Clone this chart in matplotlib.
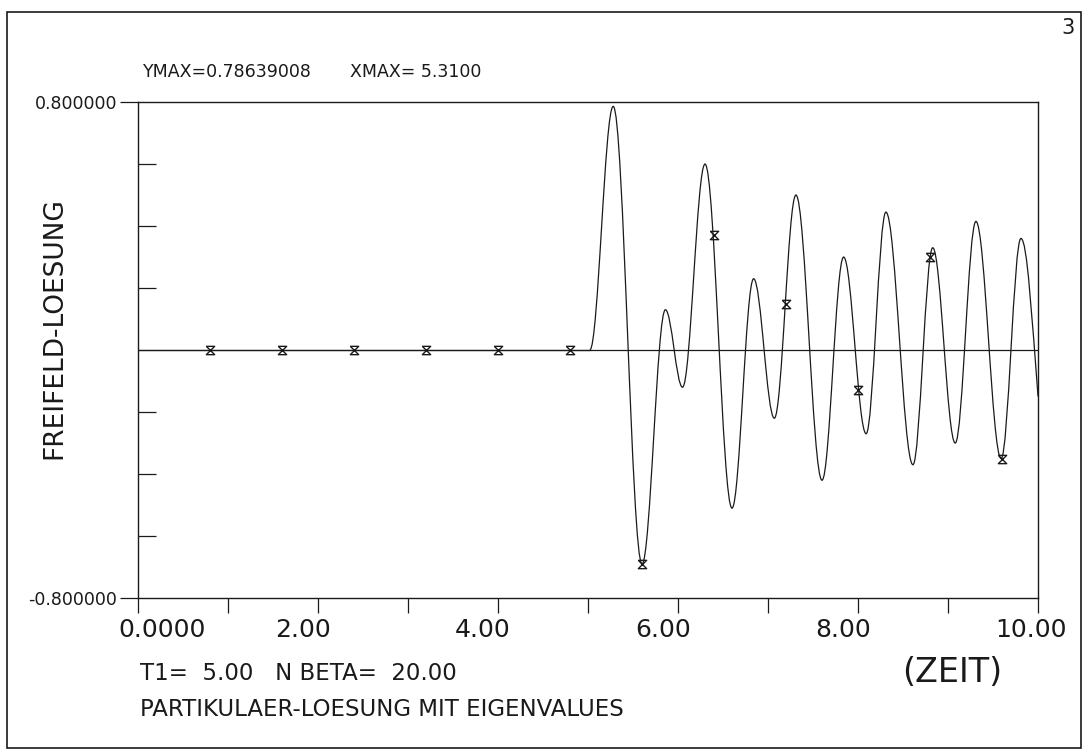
import matplotlib
matplotlib.use("Agg")
import matplotlib.pyplot as plt
from matplotlib.path import Path
from matplotlib.patches import PathPatch, Rectangle

# curve values (flat part, then the extrema of the oscillation)
flat_x = [0.0, 5.02]
flat_y = [0.0, 0.0]
node_x = [5.02, 5.28, 5.60, 5.86, 6.05, 6.30, 6.60, 6.84, 7.07, 7.31, 7.60,
          7.84, 8.09, 8.31, 8.61, 8.83, 9.08, 9.31, 9.59, 9.81, 10.0]
node_y = [0.0, 0.786, -0.69, 0.13, -0.12, 0.60, -0.51, 0.23, -0.22, 0.50, -0.42,
          0.30, -0.27, 0.445, -0.37, 0.33, -0.30, 0.415, -0.35, 0.36, -0.15]

# sampled points (marked with small symbols)
mark_x = [0.8, 1.6, 2.4, 3.2, 4.0, 4.8, 5.6, 6.4, 7.2, 8.0, 8.8, 9.6]
mark_y = [0.0, 0.0, 0.0, 0.0, 0.0, 0.0, -0.69, 0.37, 0.15, -0.13, 0.30, -0.35]

yticks_major = [-0.8, 0.8]
ytick_labels = ["-0.800000", "0.800000"]
yticks_minor = [-0.6, -0.4, -0.2, 0.2, 0.4, 0.6]
xticks = list(range(11))
xlabel_pos = [0, 2, 4, 6, 8, 10]
xlabel_txt = ["0.0000", "2.00", "4.00", "6.00", "8.00", "10.00"]

ink = "#1a1a1a"
plt.rcParams['font.family'] = ['DejaVu Sans']

fig = plt.figure(figsize=(10.84, 7.53), dpi=100)
ax = fig.add_axes([0.1273, 0.2058, 0.8303, 0.6587])
ax.set_xlim(0, 10)
ax.set_ylim(-0.8, 0.8)

for s in ax.spines.values():
    s.set_linewidth(1.0)
    s.set_color(ink)

# zero line across the whole axis
ax.axhline(0, color=ink, lw=0.9)
ax.plot(flat_x, flat_y, color=ink, lw=0.9)

# smooth curve through the extrema
k = 0.363
verts = [(node_x[0], node_y[0])]
codes = [Path.MOVETO]
n = len(node_x)
for i in range(n - 1):
    xa, ya, xb, yb = node_x[i], node_y[i], node_x[i + 1], node_y[i + 1]
    dx = xb - xa
    c1 = (xa + k * dx, ya)
    if i == n - 2:
        c2 = (xb - k * dx, yb + 0.5 * (ya - yb))   # last point is not an extremum
    else:
        c2 = (xb - k * dx, yb)
    verts += [c1, c2, (xb, yb)]
    codes += [Path.CURVE4] * 3
ax.add_patch(PathPatch(Path(verts, codes), fill=False, edgecolor=ink, lw=0.9))

# hourglass-like marker
hg = Path([(-1, 1), (1, 1), (-1, -1), (1, -1), (-1, 1)])
ax.plot(mark_x, mark_y, ls="none", marker=hg, ms=6, mew=1.0,
        mec=ink, mfc="none")

# ticks
ax.set_yticks(yticks_major)
ax.set_yticklabels(ytick_labels, fontsize=12.5, color=ink)
ax.set_yticks(yticks_minor, minor=True)
ax.tick_params(axis="y", which="major", direction="out", length=13, width=0.9,
               pad=2, colors=ink)
ax.tick_params(axis="y", which="minor", direction="in", length=13, width=0.9,
               colors=ink)
ax.set_xticks(xticks)
ax.set_xticklabels([])
ax.tick_params(axis="x", which="major", direction="out", length=11, width=0.9,
               colors=ink)

for xp, t in zip(xlabel_pos, xlabel_txt):
    off = -14 if xp == 0 else -31
    ax.annotate(t, xy=(xp, -0.8), xycoords="data", xytext=(off, -23),
                textcoords="offset points", ha="left", va="center",
                fontsize=18, color=ink)

# texts
fig.text(143 / 1084, 1 - 72 / 753, "YMAX=0.78639008", fontsize=12.5,
         ha="left", va="center", color=ink)
fig.text(350 / 1084, 1 - 72 / 753, "XMAX= 5.3100", fontsize=12.5,
         ha="left", va="center", color=ink)
fig.text(54 / 1084, 1 - 328 / 753, "FREIFELD-LOESUNG", fontsize=19,
         rotation=90, ha="center", va="center", color=ink)
fig.text(952 / 1084, 1 - 672 / 753, "(ZEIT)", fontsize=24,
         ha="center", va="center", color=ink)
fig.text(140 / 1084, 1 - 674 / 753, "T1=  5.00   N BETA=  20.00", fontsize=16.5,
         ha="left", va="center", color=ink)
fig.text(140 / 1084, 1 - 710 / 753, "PARTIKULAER-LOESUNG MIT EIGENVALUES",
         fontsize=16.5, ha="left", va="center", color=ink)
fig.text(1068 / 1084, 1 - 28 / 753, "3", fontsize=15,
         ha="center", va="center", color=ink)

# page frame
fig.patches.append(Rectangle((7 / 1084, 5 / 753), 1074 / 1084, 736 / 753,
                             transform=fig.transFigure, fill=False,
                             edgecolor=ink, lw=1.2))

fig.savefig("out.png", dpi=100)
